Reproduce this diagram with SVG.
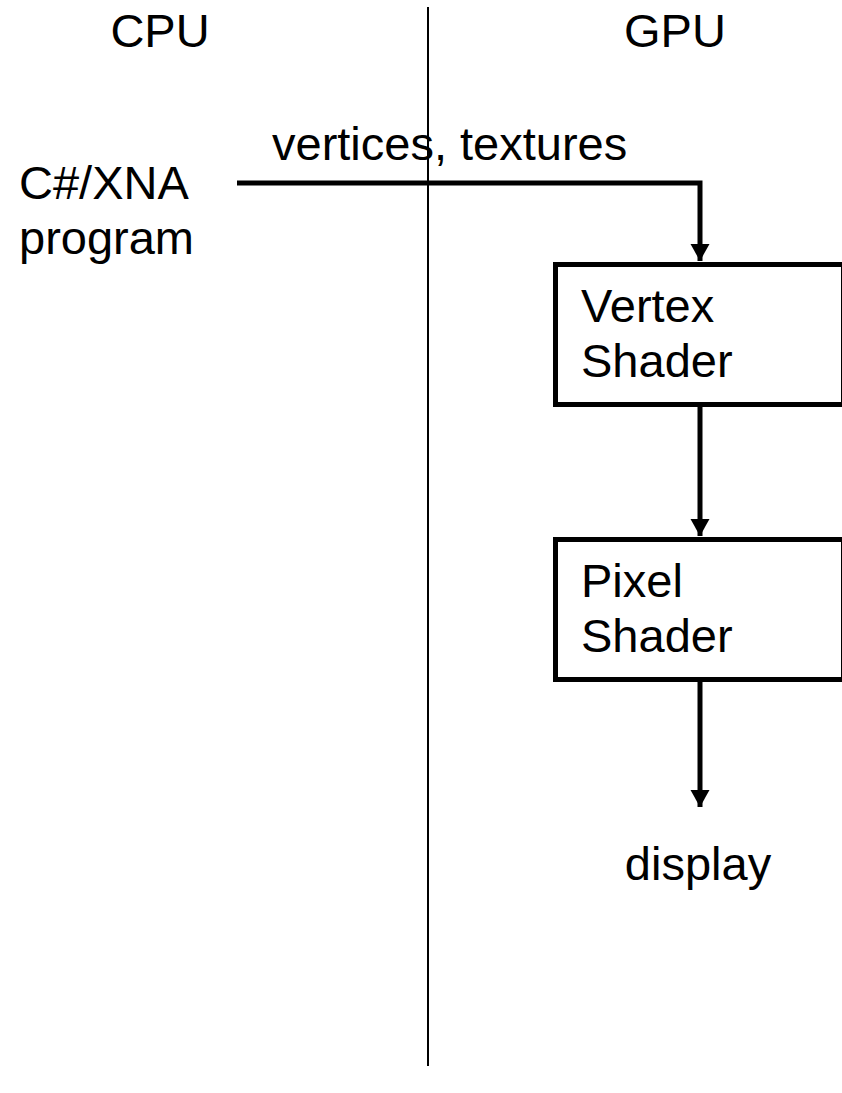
<svg xmlns="http://www.w3.org/2000/svg" width="842" height="1093" viewBox="0 0 842 1093">
  <defs>
    <marker id="arrow" markerWidth="18" markerHeight="20" refX="17" refY="9.5" orient="auto" markerUnits="userSpaceOnUse">
      <path d="M0,0 L17,9.5 L0,19 Z" fill="#000"/>
    </marker>
    <style>
      text { font-family: "Liberation Sans", Arial, sans-serif; font-size: 47px; fill: #000; }
      .box { fill: #fff; stroke: #000; stroke-width: 5; }
      .conn { fill: none; stroke: #000; stroke-width: 5; }
      .divider { stroke: #000; stroke-width: 2; }
    </style>
  </defs>
  <rect width="842" height="1093" fill="#fff"/>
  <g id="divider">
    <line class="divider" x1="428" y1="7" x2="428" y2="1066"/>
    <text x="160" y="47" text-anchor="middle">CPU</text>
    <text x="675" y="47" text-anchor="middle">GPU</text>
  </g>
  <g id="program">
    <text x="19" y="199">C#/XNA</text>
    <text x="19" y="254">program</text>
  </g>
  <g id="vertex-shader">
    <rect class="box" x="555.5" y="264.5" width="288" height="140"/>
    <text x="581" y="322">Vertex</text>
    <text x="581" y="377">Shader</text>
  </g>
  <g id="pixel-shader">
    <rect class="box" x="555.5" y="539.5" width="288" height="140"/>
    <text x="581" y="597">Pixel</text>
    <text x="581" y="652">Shader</text>
  </g>
  <g id="display">
    <text x="698" y="880" text-anchor="middle">display</text>
  </g>
  <g id="connectors">
    <path class="conn" d="M237,183 H700 V261" marker-end="url(#arrow)"/>
    <text x="272" y="160">vertices, textures</text>
    <path class="conn" d="M700,407 V536" marker-end="url(#arrow)"/>
    <path class="conn" d="M700,682 V807" marker-end="url(#arrow)"/>
  </g>
</svg>
